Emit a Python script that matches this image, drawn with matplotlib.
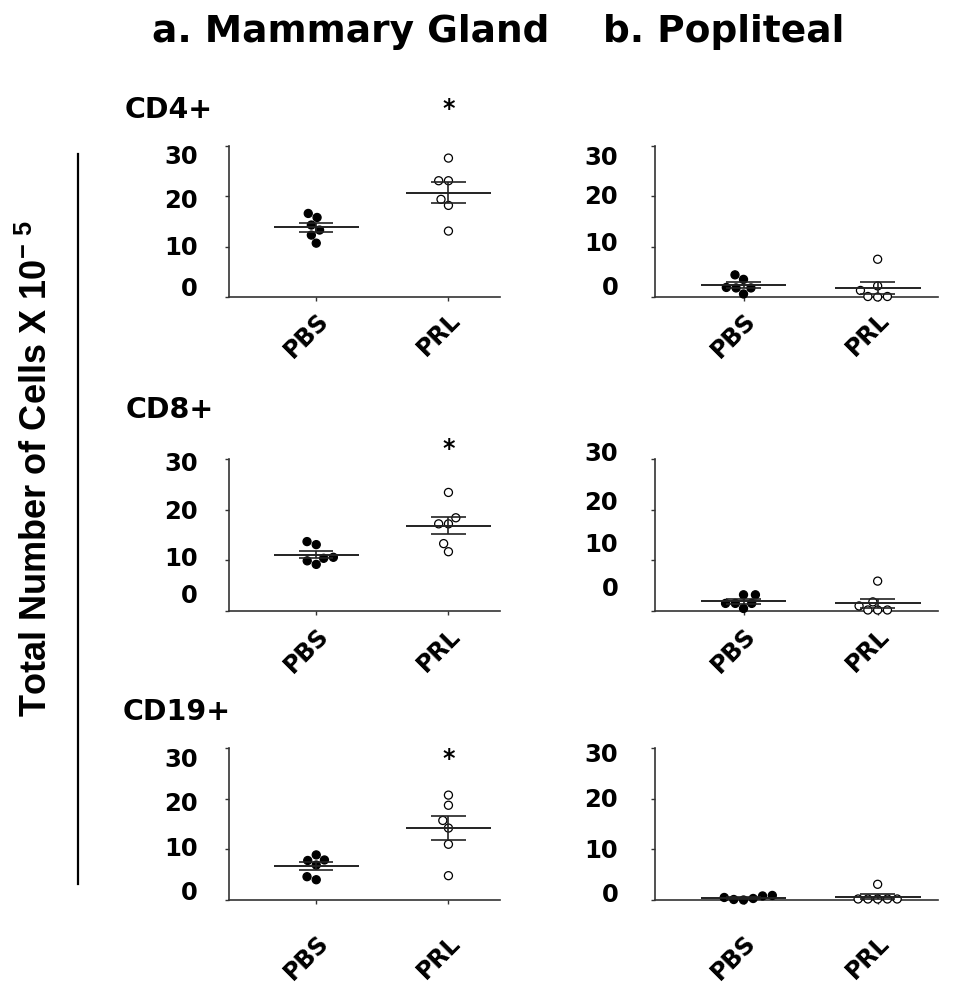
import numpy as np
import matplotlib.pyplot as plt
import seaborn as sns
from matplotlib.lines import Line2D

plt.rcParams['font.family'] = ['DejaVu Sans']
plt.rcParams['font.weight'] = 'bold'
plt.rcParams['mathtext.fontset'] = 'custom'
plt.rcParams['mathtext.rm'] = 'Liberation Sans:bold'
plt.rcParams['mathtext.bf'] = 'Liberation Sans:bold'

groups = ['PBS', 'PRL']
cell_types = ['CD4+', 'CD8+', 'CD19+']
tissues = ['a. Mammary Gland', 'b. Popliteal']

# total number of cells (x 10^-5)
mg_cd4_pbs = [15.8, 16.6, 14.3, 13.3, 12.3, 10.7]
mg_cd4_prl = [27.6, 23.1, 23.1, 19.4, 18.2, 13.1]
mg_cd8_pbs = [13.7, 13.1, 10.4, 9.9, 10.6, 9.2]
mg_cd8_prl = [23.4, 18.4, 17.2, 17.2, 13.3, 11.7]
mg_cd19_pbs = [8.9, 7.8, 7.9, 6.9, 4.6, 4.0]
mg_cd19_prl = [20.7, 18.7, 15.7, 14.2, 11.0, 4.8]

pop_cd4_pbs = [4.4, 1.8, 3.5, 1.8, 1.9, 0.6]
pop_cd4_prl = [7.5, 2.2, 0.1, 0.0, 0.1, 1.3]
pop_cd8_pbs = [3.2, 3.2, 1.5, 1.5, 1.5, 0.5]
pop_cd8_prl = [5.9, 1.8, 1.0, 0.2, 0.2, 0.2]
pop_cd19_pbs = [0.8, 0.3, 0.0, 0.1, 0.5, 0.9]
pop_cd19_prl = [3.1, 0.2, 0.2, 0.2, 0.2, 0.2]

mg_sig = [True, True, True]
pop_sig = [False, False, False]

yticks = [0, 10, 20, 30]
ytick_labels = ['0', '10', '20', '30']

panels = [
    [(mg_cd4_pbs, mg_cd4_prl), (pop_cd4_pbs, pop_cd4_prl)],
    [(mg_cd8_pbs, mg_cd8_prl), (pop_cd8_pbs, pop_cd8_prl)],
    [(mg_cd19_pbs, mg_cd19_prl), (pop_cd19_pbs, pop_cd19_prl)],
]
sig = [mg_sig, pop_sig]

# ---- layout (pixels of the 958x984 canvas) ----
W, H = 958, 984
col_x = [(229, 500), (655, 938)]
row_y = [(146, 297), (459, 611), (748, 900)]
xlims = [(-0.66, 1.39), (-0.66, 1.45)]
ylab_pad = [22.5, 26.5]
xlab_pad = [5, 6, 19]
# the printed tick labels sit a bit off their ticks in the original
ylab_pos = [
    [[2.0, 10.15, 19.5, 28.4], [2.2, 11.1, 20.3, 28.2]],
    [[3.4, 10.7, 20.1, 29.6], [4.9, 13.6, 21.9, 31.4]],
    [[1.8, 10.5, 19.5, 28.2], [1.4, 10.15, 20.3, 29.2]],
]
star_y = [36.0, 30.6, 26.4]
label_y = [118, 418, 720]
label_x = [125, 126, 123]
YTOP = 32

fig = plt.figure(figsize=(W / 100, H / 100), dpi=100)

for r in range(3):
    for c in range(2):
        x0, x1 = col_x[c]
        yt, yb = row_y[r]
        ppu = (yb - yt) / 30.0
        ax = fig.add_axes([x0 / W, 1 - yb / H, (x1 - x0) / W, YTOP * ppu / H])
        pbs, prl = panels[r][c]
        vals = list(pbs) + list(prl)
        labs = ['PBS'] * len(pbs) + ['PRL'] * len(prl)
        sns.swarmplot(x=labs, y=vals, hue=labs, order=groups, hue_order=groups,
                      palette={'PBS': 'black', 'PRL': 'white'},
                      edgecolor='black', linewidth=0.9, size=5.8, legend=False,
                      ax=ax, zorder=3, clip_on=False)

        for i, g in enumerate([pbs, prl]):
            v = np.asarray(g, dtype=float)
            m = v.mean()
            s = v.std(ddof=1) / np.sqrt(len(v))
            ax.hlines(m, i - 0.32, i + 0.32, color='#222222', lw=1.4, zorder=4)
            ax.hlines([m - s, m + s], i - 0.13, i + 0.13, color='#222222', lw=1.2, zorder=4)
            ax.vlines(i, m - s, m + s, color='#222222', lw=1.2, zorder=4)

        if sig[c][r]:
            ax.text(1, star_y[r], '*', ha='center', va='baseline', fontsize=17,
                    fontweight='bold', clip_on=False)

        ax.set_xlim(*xlims[c])
        ax.set_ylim(0, YTOP)
        ax.set_xlabel('')
        ax.set_ylabel('')
        for side in ['top', 'right']:
            ax.spines[side].set_visible(False)
        for side in ['left', 'bottom']:
            ax.spines[side].set_linewidth(1.2)
            ax.spines[side].set_color('#333333')
        ax.spines['left'].set_bounds(0, 30)

        ax.set_yticks(yticks)
        ax.tick_params(axis='y', which='major', length=3, width=1, labelleft=False,
                       color='#333333')
        ax.set_yticks(ylab_pos[r][c], minor=True)
        ax.set_yticklabels(ytick_labels, minor=True, fontsize=17.5, fontweight='bold')
        ax.tick_params(axis='y', which='minor', length=0, pad=ylab_pad[c])

        ax.set_xticks([0, 1])
        ax.set_xticklabels(groups, rotation=45, ha='right', va='top',
                           rotation_mode='anchor', fontsize=17, fontweight='bold')
        ax.tick_params(axis='x', length=3, width=1, pad=xlab_pad[r], color='#333333')

# row labels
for r, name in enumerate(cell_types):
    fig.text(label_x[r] / W, 1 - label_y[r] / H, name, ha='left', va='baseline',
             fontsize=20.5, fontweight='bold')

# column titles
fig.text(152 / W, 1 - 42 / H, tissues[0], ha='left', va='baseline', fontsize=27, fontweight='bold')
fig.text(603 / W, 1 - 42 / H, tissues[1], ha='left', va='baseline', fontsize=27, fontweight='bold')

# shared y label with its bar
fig.text(37 / W, 1 - 469 / H, r'Total Number of Cells X 10$^{\mathbf{-\ 5}}$',
         rotation=90, ha='center', va='center', fontsize=26,
         family='Liberation Sans', fontweight='bold')
fig.add_artist(Line2D([77.5 / W, 77.5 / W], [1 - 154 / H, 1 - 884 / H],
                      color='black', lw=1.6))

fig.savefig('out.png', dpi=100)
